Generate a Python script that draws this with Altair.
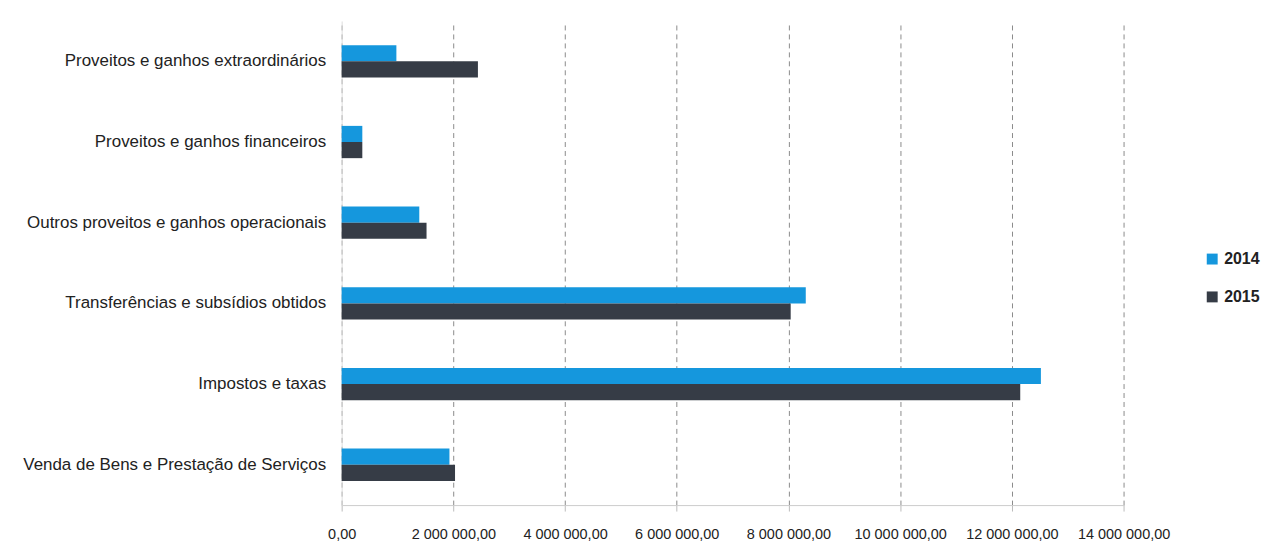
import altair as alt
import pandas as pd

categories = [
    "Proveitos e ganhos extraordinários",
    "Proveitos e ganhos financeiros",
    "Outros proveitos e ganhos operacionais",
    "Transferências e subsídios obtidos",
    "Impostos e taxas",
    "Venda de Bens e Prestação de Serviços",
]
values_2014 = [980000, 370000, 1390000, 8310000, 12520000, 1930000]
values_2015 = [2440000, 370000, 1520000, 8040000, 12150000, 2030000]
years = ["2014", "2015"]
x_ticks = [0, 2000000, 4000000, 6000000, 8000000, 10000000, 12000000, 14000000]

rows = []
for c, a, b in zip(categories, values_2014, values_2015):
    rows.append({"cat": c, "ano": "2014", "valor": a})
    rows.append({"cat": c, "ano": "2015", "valor": b})
df = pd.DataFrame(rows)

font = "Liberation Sans"

chart = alt.Chart(df).mark_bar().encode(
    y=alt.Y("cat:N", sort=categories, title=None,
            scale=alt.Scale(paddingInner=0.6, paddingOuter=0.3),
            axis=alt.Axis(labelFontSize=17, labelColor="#222", labelFont=font,
                          ticks=False, domain=True, domainColor="#dddddd",
                          labelPadding=16, labelLimit=400, grid=False)),
    yOffset=alt.YOffset("ano:N", sort=years),
    x=alt.X("valor:Q", title=None,
            scale=alt.Scale(domain=[0, 14000000], nice=False),
            axis=alt.Axis(values=x_ticks, grid=True, gridDash=[5, 4],
                          gridColor="#8a8a8a", gridWidth=1,
                          domainColor="#cccccc", tickColor="#bbbbbb",
                          tickSize=6, labelFontSize=14.5, labelFont=font,
                          labelColor="#222", labelPadding=17,
                          labelOverlap=False, labelFlush=False,
                          labelExpr="datum.value == 0 ? '0,00' : format(datum.value/1000000, 'd') + ' 000 000,00'")),
    color=alt.Color("ano:N", sort=years,
                    scale=alt.Scale(domain=years, range=["#1597dd", "#363c46"]),
                    legend=alt.Legend(title=None, orient="none", legendX=866, legendY=231,
                                      symbolType="square", symbolSize=120,
                                      labelFontSize=16, labelFontWeight="bold",
                                      labelFont=font, labelColor="#222",
                                      rowPadding=22, symbolStrokeWidth=0)),
).properties(
    width=785, height=486,
    background="white",
    padding={"left": 22, "top": 20, "right": 5, "bottom": 5},
).configure_view(stroke=None)

chart.save("out.html", embed_options={"renderer": "svg", "actions": False})
